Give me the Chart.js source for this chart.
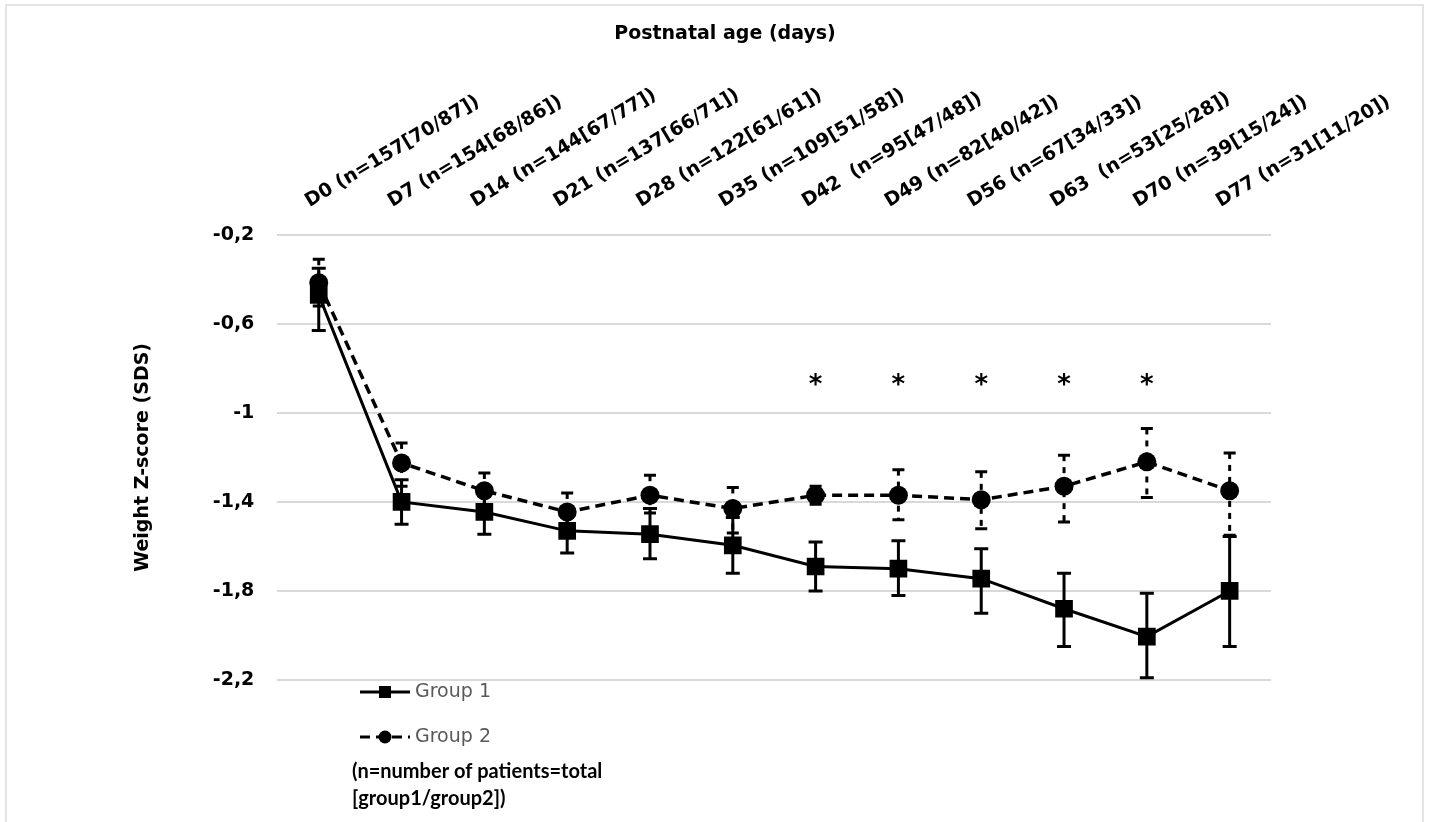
<!DOCTYPE html>
<html>
<head>
<meta charset="utf-8">
<script src="https://cdn.jsdelivr.net/npm/chart.js@4.4.1/dist/chart.umd.min.js"></script>
<style>
  html, body { margin: 0; padding: 0; background: #fff; }
  #wrap { position: relative; width: 1429px; height: 822px; overflow: hidden; }
  #frame { position: absolute; left: 5px; top: 4px; width: 1415px; height: 900px; border: 2px solid #e4e4e4; pointer-events: none; }
</style>
</head>
<body>
<div id="wrap">
  <canvas id="chart" width="1429" height="822"></canvas>
  <div id="frame"></div>
</div>
<script>
// postnatal day with n = total [group1/group2]
const days = [
    'D0 (n=157[70/87])', 'D7 (n=154[68/86])', 'D14 (n=144[67/77])', 'D21 (n=137[66/71])',
    'D28 (n=122[61/61])', 'D35 (n=109[51/58])', 'D42  (n=95[47/48])', 'D49 (n=82[40/42])',
    'D56 (n=67[34/33])', 'D63  (n=53[25/28])', 'D70 (n=39[15/24])', 'D77 (n=31[11/20])'
];

const group1Mean  = [-0.47, -1.40, -1.445, -1.53, -1.545, -1.595, -1.69, -1.70, -1.745, -1.88, -2.005, -1.80];
const group1Upper = [-0.35, -1.30, -1.345, -1.43, -1.43, -1.47, -1.58, -1.575, -1.61, -1.72, -1.81, -1.555];
const group1Lower = [-0.63, -1.50, -1.545, -1.63, -1.655, -1.72, -1.80, -1.82, -1.90, -2.05, -2.19, -2.05];

const group2Mean  = [-0.415, -1.225, -1.35, -1.445, -1.37, -1.43, -1.37, -1.37, -1.39, -1.33, -1.22, -1.35];
const group2Upper = [-0.31, -1.135, -1.27, -1.36, -1.28, -1.335, -1.33, -1.255, -1.265, -1.19, -1.07, -1.18];
const group2Lower = [-0.52, -1.33, -1.43, -1.53, -1.45, -1.54, -1.41, -1.48, -1.52, -1.49, -1.38, -1.55];

// * = significant difference between groups
const significant = [false, false, false, false, false, false, true, true, true, true, true, false];
const starLevel = -0.855;

const yTicks = { min: -2.2, max: -0.2, step: 0.4 };

const FONT = "'DejaVu Sans', sans-serif";

const errorBarPlugin = {
    id: 'errorBars',
    beforeDatasetsDraw(chart) {
        const ctx = chart.ctx;
        const xs = chart.scales.x, ys = chart.scales.y;
        chart.data.datasets.forEach(ds => {
            const eb = ds.errorBars;
            if (!eb) return;
            ctx.save();
            ctx.strokeStyle = '#000';
            ctx.lineWidth = 3;
            eb.upper.forEach((up, i) => {
                const x = xs.getPixelForValue(i);
                const yt = ys.getPixelForValue(up);
                const yb = ys.getPixelForValue(eb.lower[i]);
                ctx.setLineDash(eb.dash);
                ctx.beginPath();
                ctx.moveTo(x, yt);
                ctx.lineTo(x, yb);
                ctx.stroke();
                ctx.setLineDash([]);
                ctx.beginPath();
                ctx.moveTo(x - eb.cap, yt); ctx.lineTo(x + eb.cap, yt);
                ctx.moveTo(x - eb.cap, yb); ctx.lineTo(x + eb.cap, yb);
                ctx.stroke();
            });
            ctx.restore();
        });
    },
    afterDatasetsDraw(chart) {
        const ctx = chart.ctx;
        const xs = chart.scales.x, ys = chart.scales.y;
        ctx.save();
        ctx.fillStyle = '#000';
        ctx.font = 'bold 26px ' + FONT;
        ctx.textAlign = 'center';
        ctx.textBaseline = 'middle';
        significant.forEach((s, i) => {
            if (s) ctx.fillText('*', xs.getPixelForValue(i), ys.getPixelForValue(starLevel) + 6);
        });
        ctx.restore();
    }
};

const legendPlugin = {
    id: 'sideLegend',
    afterDraw(chart) {
        const ctx = chart.ctx;
        const items = chart.data.datasets;
        ctx.save();
        items.forEach((ds, i) => {
            const y = 692 + i * 45;
            ctx.strokeStyle = '#000';
            ctx.lineWidth = 3;
            ctx.setLineDash(ds.borderDash || []);
            ctx.beginPath();
            ctx.moveTo(360, y);
            ctx.lineTo(410, y);
            ctx.stroke();
            ctx.setLineDash([]);
            ctx.fillStyle = '#000';
            if (ds.pointStyle === 'rect') {
                ctx.fillRect(379, y - 6, 12, 12);
            } else {
                ctx.beginPath();
                ctx.arc(385, y, 6.5, 0, Math.PI * 2);
                ctx.fill();
            }
            ctx.fillStyle = '#595959';
            ctx.font = '19px ' + FONT;
            ctx.textAlign = 'left';
            ctx.textBaseline = 'middle';
            ctx.fillText(ds.label, 415, y);
        });
        ctx.fillStyle = '#000';
        ctx.font = "bold 20px Lato, sans-serif";
        ctx.textBaseline = 'middle';
        ctx.fillText('(n=number of patients=total', 352, 772);
        ctx.fillText('[group1/group2])', 352, 799);
        ctx.restore();
    }
};

const ctx = document.getElementById('chart').getContext('2d');

new Chart(ctx, {
    type: 'line',
    data: {
        labels: days,
        datasets: [
            {
                label: 'Group 1',
                data: group1Mean,
                borderColor: '#000',
                backgroundColor: '#000',
                borderWidth: 3,
                pointStyle: 'rect',
                pointRadius: 12.5,
                pointHoverRadius: 12.5,
                pointBorderWidth: 0,
                tension: 0,
                errorBars: { upper: group1Upper, lower: group1Lower, dash: [], cap: 7 }
            },
            {
                label: 'Group 2',
                data: group2Mean,
                borderColor: '#000',
                backgroundColor: '#000',
                borderWidth: 3.5,
                borderDash: [10, 6],
                pointStyle: 'circle',
                pointRadius: 9.5,
                pointHoverRadius: 9.5,
                pointBorderWidth: 0,
                tension: 0,
                errorBars: { upper: group2Upper, lower: group2Lower, dash: [6, 6], cap: 6 }
            }
        ]
    },
    options: {
        responsive: false,
        animation: false,
        // left padding is wide so the page title centres like the original; the y title pulls back with a negative pad
        layout: { padding: { left: 178, right: 157, top: 0, bottom: 142 } },
        plugins: {
            legend: { display: false },
            tooltip: { enabled: false },
            title: {
                display: true,
                text: 'Postnatal age (days)',
                color: '#000',
                font: { family: FONT, size: 19, weight: 'bold' },
                padding: { top: 23, bottom: 16 }
            }
        },
        scales: {
            x: {
                position: 'top',
                offset: true,
                grid: { display: false, drawTicks: false },
                border: { display: false },
                ticks: {
                    autoSkip: false,
                    maxRotation: 31,
                    minRotation: 31,
                    padding: 22,
                    color: '#000',
                    font: { family: FONT, size: 19, weight: 'bold' }
                }
            },
            y: {
                min: yTicks.min,
                max: yTicks.max,
                grid: { color: '#d9d9d9', lineWidth: 2, drawTicks: false },
                border: { display: false },
                ticks: {
                    stepSize: yTicks.step,
                    padding: 23,
                    color: '#000',
                    font: { family: FONT, size: 19, weight: 'bold' },
                    callback: v => (Math.round(v * 10) / 10).toString().replace('.', ',')
                },
                title: {
                    display: true,
                    text: 'Weight Z-score (SDS)',
                    color: '#000',
                    font: { family: FONT, size: 19, weight: 'bold' },
                    padding: { top: -46, bottom: 35 }
                }
            }
        }
    },
    plugins: [errorBarPlugin, legendPlugin]
});
</script>
</body>
</html>
